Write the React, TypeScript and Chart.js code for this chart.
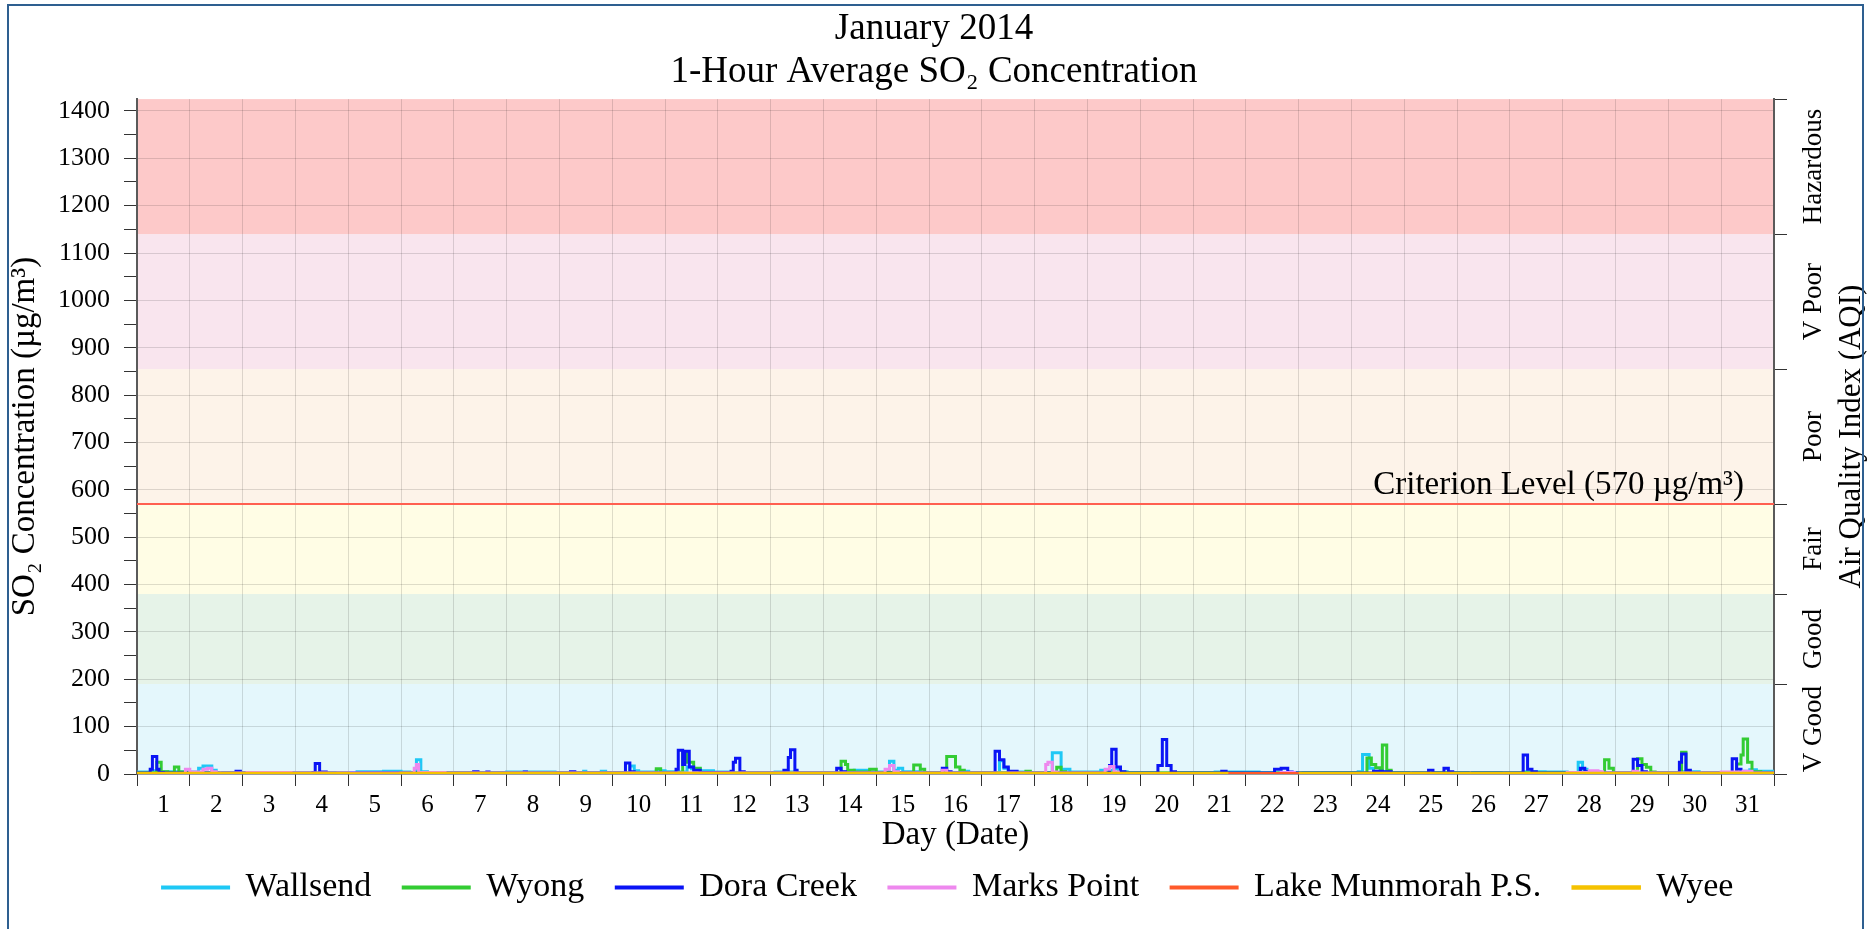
import React, { useEffect, useRef } from 'react';
import { Chart, registerables } from 'chart.js';

Chart.register(...registerables);

const FONT = '"Liberation Serif", "Times New Roman", serif';

// ---------- data ----------
const titleLines = ['January 2014', '1-Hour Average SO₂ Concentration'];
const xTitle = 'Day (Date)';
const yTitle = 'SO₂ Concentration (µg/m³)';
const aqiTitle = 'Air Quality Index (AQI)';
const criterionLabel = 'Criterion Level (570 µg/m³)';
const criterionLevel = 570;

const dayLabels = ['1','2','3','4','5','6','7','8','9','10','11','12','13','14','15','16','17','18','19','20','21','22','23','24','25','26','27','28','29','30','31'];
const yTickLabels = [0, 100, 200, 300, 400, 500, 600, 700, 800, 900, 1000, 1100, 1200, 1300, 1400];
const yMax = 1425;

const aqiBounds = [0, 190, 380, 570, 855, 1140, 1425];
const aqiNames = ['V Good', 'Good', 'Fair', 'Poor', 'V Poor', 'Hazardous'];
const aqiColors = ['#E4F7FC', '#E6F3E8', '#FFFDE5', '#FDF3E9', '#F9E5EE', '#FDC9C9'];

const seriesNames = ['Wallsend', 'Wyong', 'Dora Creek', 'Marks Point', 'Lake Munmorah P.S.', 'Wyee'];
const seriesColors = ['#1EC8F5', '#33CC33', '#0A14F5', '#EE88EE', '#FF5A2A', '#F5C200'];
const seriesDrawOrder = [4, 3, 2, 1, -1, -2];

// [hour of month, µg/m³]
const wallsendPts: [number, number | null][] = [
  [0,4],[7,7],[10,5],[24,4],[28,12],[30,17],[34,8],[36,2],[37,-3],[39,3],[60,2],[80,3],[90,2],[100,5],[112,6],[120,4],[124,3],[127,30],[129,5],[132,3],[150,3],[168,4],[190,3],[203,6],[204,3],[211,6],[213,3],[224,17],[226,7],[228,4],[236,7],[240,5],[246,4],[250,15],[252,11],[256,7],[262,4],[270,3],[290,4],[300,3],[320,4],[326,8],[332,4],[342,27],[344,8],[346,12],[348,5],[356,3],[376,6],[378,3],[392,28],[394,12],[396,5],[400,4],[406,3],[416,45],[420,10],[424,4],[438,8],[444,11],[446,5],[450,3],[464,2],[472,3],[490,4],[510,2],[530,3],[555,5],[557,41],[560,12],[562,5],[570,3],[578,-2],[580,2],[590,3],[605,-2],[607,3],[620,2],[630,5],[640,4],[650,3],[655,25],[657,10],[659,4],[665,2],[690,3],[700,-3],[702,5],[710,-3],[712,2],[730,6],[733,9],[736,6],[744,5]
];
const wyongPts: [number, number | null][] = [
  [0,2],[9,25],[11,5],[14,3],[17,15],[19,4],[22,2],[60,1],[100,2],[130,3],[140,2],[236,11],[238,3],[247,3],[248,45],[250,25],[253,12],[256,3],[270,2],[320,27],[322,20],[323,8],[326,4],[333,10],[336,3],[353,19],[356,10],[358,3],[368,37],[372,15],[374,8],[376,3],[404,6],[406,2],[418,14],[420,5],[422,2],[559,34],[561,20],[563,13],[565,3],[566,61],[568,8],[570,2],[667,30],[669,12],[671,2],[682,32],[684,20],[686,14],[688,4],[690,2],[702,46],[704,3],[706,2],[727,21],[729,40],[730,74],[732,25],[734,5],[738,3],[744,3]
];
const doraCreekPts: [number, number | null][] = [
  [0,2],[6,10],[7,37],[9,10],[10,3],[12,2],[45,6],[47,2],[80,3],[81,22],[83,4],[86,2],[153,5],[155,2],[159,4],[160,2],[176,4],[177,2],[197,5],[199,2],[222,23],[224,5],[226,2],[245,10],[246,50],[248,20],[249,48],[251,15],[253,8],[256,3],[270,6],[271,25],[272,33],[274,5],[276,2],[294,8],[296,35],[297,51],[299,8],[300,2],[318,12],[320,5],[322,2],[366,12],[368,5],[370,2],[390,48],[392,30],[394,15],[396,6],[400,2],[442,18],[443,52],[445,15],[447,5],[449,2],[464,18],[466,73],[468,18],[470,5],[472,2],[493,6],[495,2],[517,10],[520,12],[523,4],[525,2],[562,6],[566,5],[570,2],[587,8],[589,2],[594,12],[596,5],[598,2],[630,40],[632,10],[634,5],[636,2],[656,12],[658,5],[660,2],[680,31],[682,18],[684,5],[686,2],[701,25],[702,42],[704,8],[706,2],[725,32],[727,10],[729,3],[732,2],[744,2]
];
const marksPointPts: [number, number | null][] = [
  [0,1],[22,10],[24,4],[30,10],[32,12],[34,5],[36,2],[50,3],[70,2],[126,12],[127,20],[128,3],[140,2],[340,10],[342,18],[344,5],[346,2],[366,8],[368,2],[413,20],[414,25],[416,4],[418,2],[440,10],[442,16],[444,4],[446,1],[520,3],[526,1],[650,3],[660,7],[664,5],[666,2],[680,6],[682,2],[720,4],[730,6],[734,2],[744,2]
];
const lakeMunmorahPts: [number, number | null][] = [
  [0,0],[200,-1],[230,0],[496,1],[530,0],[744,0]
];
const wyeePts: [number, number | null][] = [
  [0,1],[96,0],[120,1],[496,1],[497,null],[528,1],[744,1]
];

const seriesPts = [wallsendPts, wyongPts, doraCreekPts, marksPointPts, lakeMunmorahPts, wyeePts];

// ---------- helpers ----------
const GRID = 'rgba(0,0,0,0.13)';
const TICK = '#333';
const AXIS = '#5a5a5a';

const isInt = (v: number) => Math.abs(v - Math.round(v)) < 1e-9;

const aqiPlugin = {
  id: 'aqiPlugin',
  afterLayout(chart: any) {
    if (chart.legend) {
      chart.legend.left += 14;
      chart.legend.right += 14;
    }
  },
  beforeDraw(chart: any) {
    const { ctx, chartArea: a, scales } = chart;
    const y = scales.y;
    ctx.save();
    for (let i = 0; i < aqiNames.length; i++) {
      const top = y.getPixelForValue(aqiBounds[i + 1]);
      const bot = y.getPixelForValue(aqiBounds[i]);
      ctx.fillStyle = aqiColors[i];
      ctx.fillRect(a.left, top, a.right - a.left, bot - top);
    }
    ctx.restore();
  },
  afterDraw(chart: any) {
    const { ctx, chartArea: a, scales } = chart;
    const y = scales.y;
    ctx.save();
    ctx.fillStyle = '#000';
    ctx.font = `33px ${FONT}`;
    ctx.textAlign = 'right';
    ctx.textBaseline = 'alphabetic';
    ctx.fillText(criterionLabel, a.right - 30, y.getPixelForValue(criterionLevel) - 10);

    ctx.font = `27px ${FONT}`;
    ctx.textAlign = 'center';
    ctx.textBaseline = 'middle';
    for (let i = 0; i < aqiNames.length; i++) {
      const cy = (y.getPixelForValue(aqiBounds[i]) + y.getPixelForValue(aqiBounds[i + 1])) / 2;
      ctx.save();
      ctx.translate(a.right + 40, cy);
      ctx.rotate(-Math.PI / 2);
      ctx.fillText(aqiNames[i], 0, 0);
      ctx.restore();
    }
    ctx.font = `31px ${FONT}`;
    ctx.save();
    ctx.translate(a.right + 78, (a.top + a.bottom) / 2);
    ctx.rotate(-Math.PI / 2);
    ctx.fillText(aqiTitle, 0, 0);
    ctx.restore();
    ctx.restore();
  },
};

export default function App() {
  const ref = useRef<HTMLCanvasElement>(null);

  useEffect(() => {
    const datasets: any[] = seriesNames.map((name, i) => ({
      label: name,
      data: seriesPts[i].map(([h, v]) => ({ x: h / 24, y: v })),
      borderColor: seriesColors[i],
      backgroundColor: seriesColors[i],
      borderWidth: i === 5 ? 3.5 : 3,
      pointRadius: 0,
      stepped: 'before',
      spanGaps: false,
      order: seriesDrawOrder[i],
    }));
    datasets.push({
      label: 'Criterion',
      data: [{ x: 0, y: criterionLevel }, { x: dayLabels.length, y: criterionLevel }],
      borderColor: '#FF5F50',
      backgroundColor: '#FF5F50',
      borderWidth: 2,
      pointRadius: 0,
      order: 10,
    });

    const xTickValues: number[] = [];
    for (let i = 0; i <= dayLabels.length; i++) {
      xTickValues.push(i);
      if (i < dayLabels.length) xTickValues.push(i + 0.5);
    }
    const yTickValues: number[] = [];
    yTickLabels.forEach((v) => {
      yTickValues.push(v);
      if (v + 50 < yMax) yTickValues.push(v + 50);
    });

    const chart = new Chart(ref.current as HTMLCanvasElement, {
      type: 'line',
      data: { datasets },
      plugins: [aqiPlugin as any],
      options: {
        responsive: false,
        devicePixelRatio: 1,
        animation: false,
        layout: { padding: { left: 6, right: 10, top: 6, bottom: 14.6 } },
        scales: {
          x: {
            type: 'linear',
            min: 0,
            max: dayLabels.length,
            afterBuildTicks: (s: any) => { s.ticks = xTickValues.map((v) => ({ value: v })); },
            afterFit: (s: any) => { s.height = 64.4; },
            ticks: {
              autoSkip: false,
              maxRotation: 0,
              minRotation: 0,
              padding: 4,
              color: '#000',
              font: { family: FONT, size: 25 },
              callback: (v: any) => {
                const d = Number(v) - 0.5;
                return isInt(d) ? dayLabels[Math.round(d)] : '';
              },
            },
            grid: {
              color: (c: any) => (c.tick && isInt(c.tick.value) ? GRID : 'rgba(0,0,0,0)'),
              tickColor: (c: any) => (c.tick && isInt(c.tick.value) ? TICK : 'rgba(0,0,0,0)'),
              tickLength: 12,
              lineWidth: 1,
            },
            border: { color: AXIS, width: 1.5 },
            title: {
              display: true,
              text: xTitle,
              color: '#000',
              font: { family: FONT, size: 33 },
              padding: { top: 0, bottom: -16.5 },
            },
          },
          y: {
            type: 'linear',
            position: 'left',
            min: 0,
            max: yMax,
            afterBuildTicks: (s: any) => { s.ticks = yTickValues.map((v) => ({ value: v })); },
            afterFit: (s: any) => { s.width = 131; },
            ticks: {
              autoSkip: false,
              padding: 14,
              color: '#000',
              font: { family: FONT, size: 26 },
              callback: (v: any) => (Number(v) % 100 === 0 ? String(v) : ''),
            },
            grid: {
              color: (c: any) => (c.tick && c.tick.value % 100 === 0 ? GRID : 'rgba(0,0,0,0)'),
              tickColor: TICK,
              tickLength: 13,
              lineWidth: 1,
            },
            border: { color: AXIS, width: 2 },
            title: {
              display: true,
              text: yTitle,
              color: '#000',
              font: { family: FONT, size: 33 },
              padding: { top: 0, bottom: 0 },
            },
          },
          y2: {
            type: 'linear',
            position: 'right',
            min: 0,
            max: yMax,
            afterBuildTicks: (s: any) => { s.ticks = aqiBounds.map((v) => ({ value: v })); },
            afterFit: (s: any) => { s.width = 88; },
            ticks: { autoSkip: false, callback: () => '' },
            grid: { drawOnChartArea: false, tickColor: TICK, tickLength: 13 },
            border: { color: AXIS, width: 2 },
          },
        },
        plugins: {
          title: {
            display: true,
            text: titleLines,
            color: '#000',
            font: { family: FONT, size: 37, weight: 'normal', lineHeight: 1.15 },
            padding: { top: 2, bottom: 6 },
          },
          legend: {
            position: 'bottom',
            labels: {
              color: '#000',
              font: { family: FONT, size: 34 },
              boxWidth: 66,
              boxHeight: 1,
              padding: 32,
              filter: (item: any) => item.datasetIndex < seriesNames.length,
              sort: (a: any, b: any) => a.datasetIndex - b.datasetIndex,
            },
          },
          tooltip: { enabled: false },
        },
      } as any,
    });
    return () => chart.destroy();
  }, []);

  return (
    <>
      <canvas
        ref={ref}
        width={1872}
        height={929}
        style={{ position: 'fixed', left: 0, top: 0, width: 1872, height: 929 }}
      />
      <div
        style={{
          position: 'fixed',
          left: 7,
          top: 4,
          width: 1857,
          height: 1000,
          border: '2px solid #2E5F90',
          boxSizing: 'border-box',
          pointerEvents: 'none',
        }}
      />
    </>
  );
}
